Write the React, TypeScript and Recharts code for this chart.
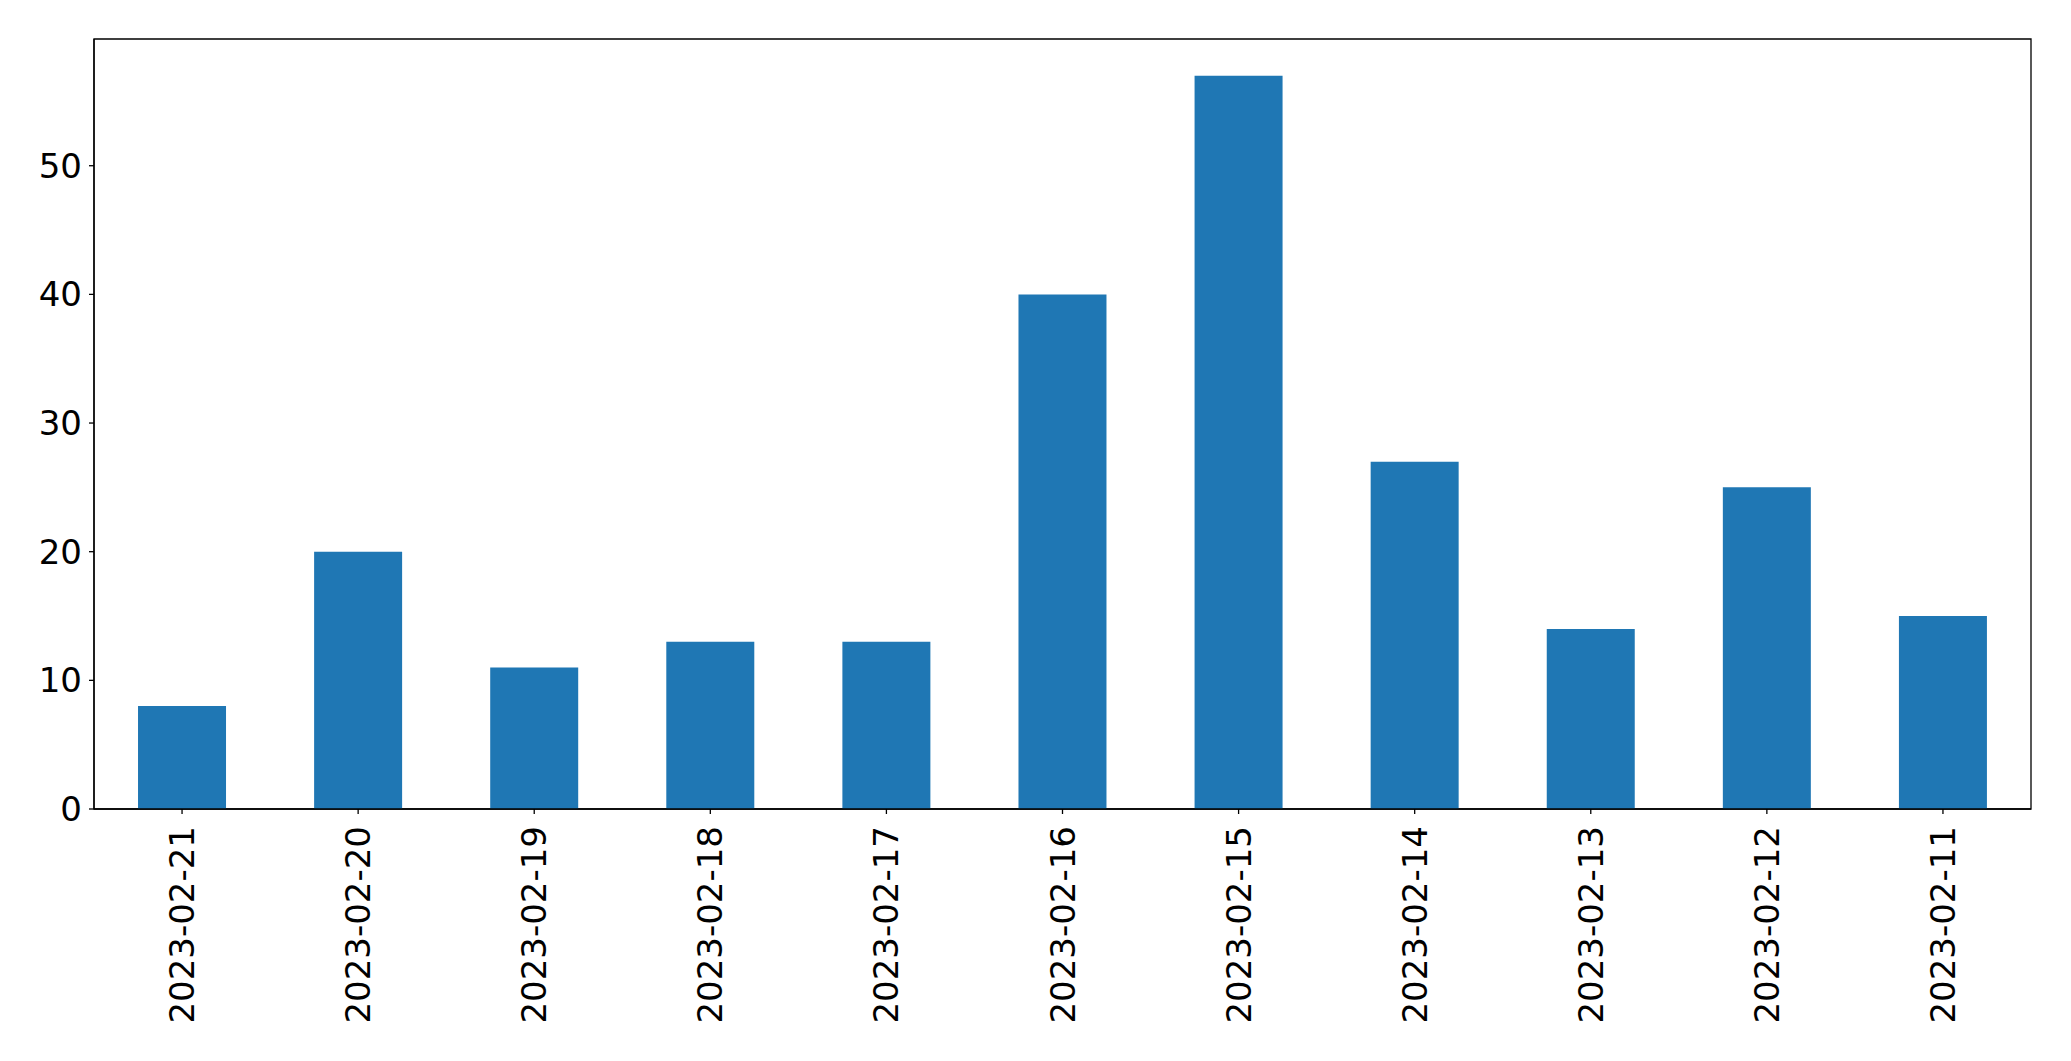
import { BarChart, Bar, XAxis, YAxis, ReferenceArea } from "recharts";

const dates = [
  "2023-02-21",
  "2023-02-20",
  "2023-02-19",
  "2023-02-18",
  "2023-02-17",
  "2023-02-16",
  "2023-02-15",
  "2023-02-14",
  "2023-02-13",
  "2023-02-12",
  "2023-02-11",
];
const counts = [8, 20, 11, 13, 13, 40, 57, 27, 14, 25, 15];
const yTicks = [0, 10, 20, 30, 40, 50];
const Y_MAX = 59.85;

const data = dates.map((date, i) => ({ date, count: counts[i] }));

const FONT = "DejaVu Sans, sans-serif";
const BLUE = "#1f77b4";

function RotatedTick(props: any) {
  const { x, y, payload } = props;
  return (
    <text
      x={x}
      y={y}
      transform={`rotate(-90, ${x}, ${y})`}
      textAnchor="end"
      dominantBaseline="central"
      fontSize={34}
      fontFamily={FONT}
      fill="#000"
    >
      {payload.value}
    </text>
  );
}

export default function App() {
  return (
    <div style={{ position: "absolute", left: 0, top: 0, width: 2071, height: 1061, background: "#fff" }}>
      <BarChart
        width={2071}
        height={1061}
        data={data}
        margin={{ top: 39, right: 40, left: 14, bottom: 12 }}
        barCategoryGap="25%"
      >
        <XAxis
          dataKey="date"
          interval={0}
          height={240}
          axisLine={{ stroke: "#000", strokeWidth: 1.3 }}
          tickLine={{ stroke: "#000", strokeWidth: 1.3 }}
          tickSize={5}
          tickMargin={12}
          tick={<RotatedTick />}
        />
        <YAxis
          domain={[0, Y_MAX]}
          ticks={yTicks}
          width={80}
          axisLine={{ stroke: "#000", strokeWidth: 1.3 }}
          tickLine={{ stroke: "#000", strokeWidth: 1.3 }}
          tickSize={5}
          tickMargin={7}
          tick={{ fontSize: 34, fontFamily: FONT, fill: "#000" }}
        />
        <Bar dataKey="count" fill={BLUE} isAnimationActive={false} />
        <ReferenceArea
          y1={0}
          y2={Y_MAX}
          fill="none"
          fillOpacity={0}
          stroke="#000"
          strokeWidth={1.3}
        />
      </BarChart>
    </div>
  );
}
